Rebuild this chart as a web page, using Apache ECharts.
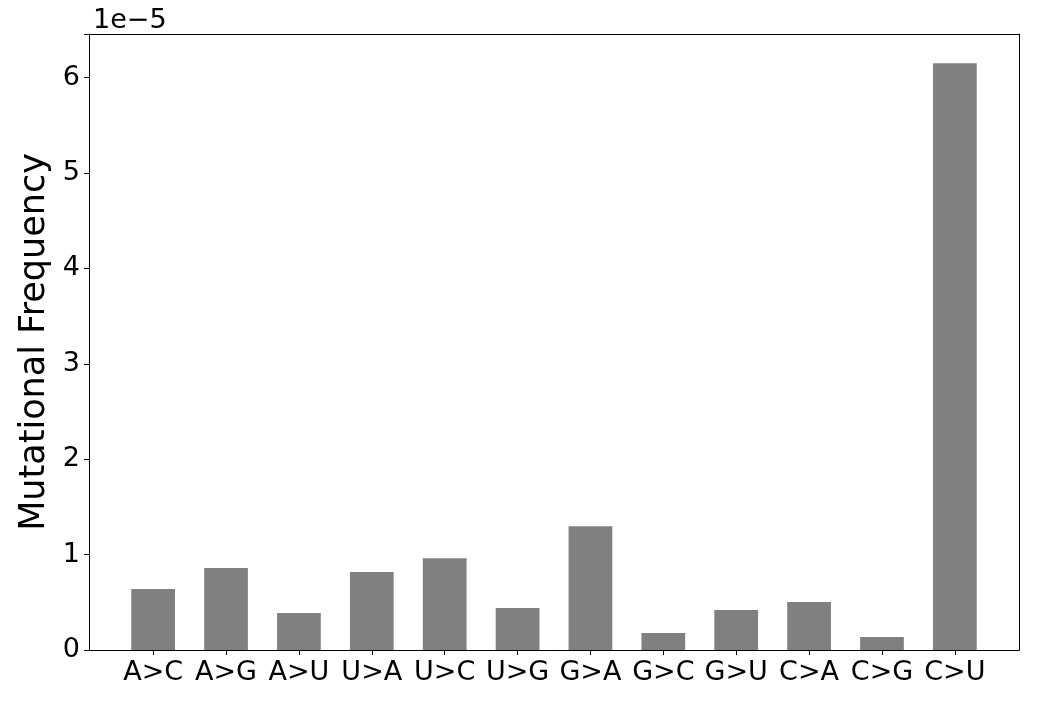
<!DOCTYPE html>
<html><head><meta charset="utf-8">
<script src="https://cdn.jsdelivr.net/npm/echarts@6/dist/echarts.min.js"></script>
<style>html,body{margin:0;padding:0;background:#fff}#c{width:1037px;height:708px}</style>
</head><body><div id="c"></div>
<script>
const categories = ["A>C","A>G","A>U","U>A","U>C","U>G","G>A","G>C","G>U","C>A","C>G","C>U"];
const values = [0.639, 0.859, 0.387, 0.817, 0.963, 0.44, 1.298, 0.178, 0.419, 0.503, 0.136, 6.15];
const yTicks = [0,1,2,3,4,5,6];
const scaleLabel = "1e\u22125";
const yName = "Mutational Frequency";

const FONT = "DejaVu Sans";
const yMax = 6.4575;
const chart = echarts.init(document.getElementById('c'), null, {renderer:'canvas'});
const lineStyle = {color:'#000', width:1};
chart.setOption({
  animation:false,
  title:{text:scaleLabel, left:88, top:2, textStyle:{fontFamily:FONT, fontSize:27, fontWeight:'normal', color:'#000'}},
  grid:[
    {left:89, top:34, width:930, height:616, show:false},
    {left:116.7, top:34, width:874.6, height:616, show:false}
  ],
  xAxis:[
    {gridIndex:0, type:'value', min:0, max:1, position:'bottom', axisLine:{show:true, onZero:false, lineStyle}, axisTick:{show:false}, axisLabel:{show:false}, splitLine:{show:false}},
    {gridIndex:0, type:'value', min:0, max:1, position:'top', axisLine:{show:true, onZero:false, lineStyle}, axisTick:{show:false}, axisLabel:{show:false}, splitLine:{show:false}},
    {gridIndex:1, type:'category', data:categories, axisLine:{show:false}, axisTick:{show:true, alignWithLabel:true, length:5, inside:false, lineStyle},
     axisLabel:{fontFamily:FONT, fontSize:27, color:'#000', margin:9, interval:0}, splitLine:{show:false}}
  ],
  yAxis:[
    {gridIndex:0, type:'value', min:0, max:yMax, interval:1, position:'left',
     axisLine:{show:true, onZero:false, lineStyle}, axisTick:{show:true, length:5, lineStyle},
     axisLabel:{fontFamily:FONT, fontSize:27, color:'#000', margin:9, padding:[4,0,0,0], formatter:v=>yTicks.includes(v)?String(v):''},
     splitLine:{show:false},
     name:yName, nameLocation:'middle', nameGap:35, nameTextStyle:{fontFamily:FONT, fontSize:35, color:'#000'}},
    {gridIndex:0, type:'value', min:0, max:yMax, position:'right', axisLine:{show:true, onZero:false, lineStyle}, axisTick:{show:false}, axisLabel:{show:false}, splitLine:{show:false}},
    {gridIndex:1, type:'value', min:0, max:yMax, show:false}
  ],
  series:[{type:'bar', xAxisIndex:2, yAxisIndex:2, data:values, barWidth:'60%', itemStyle:{color:'#808080'}}]
});
</script></body></html>
